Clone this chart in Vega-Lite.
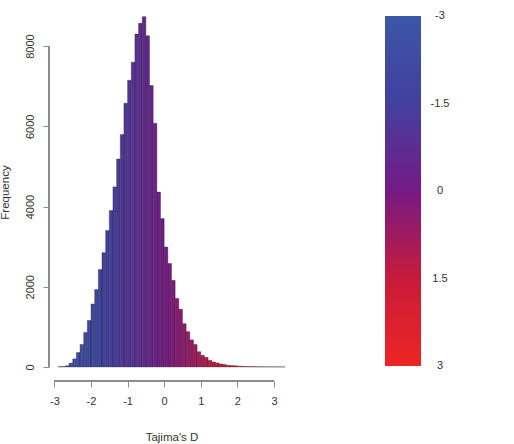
{
  "$schema": "https://vega.github.io/schema/vega-lite/v6.json",
  "width": 245,
  "height": 379,
  "autosize": {"type": "none"},
  "padding": {"left": 49, "top": 2, "right": 220, "bottom": 63},
  "background": "white",
  "config": {
    "view": {"stroke": null},
    "font": "Liberation Sans",
    "axis": {
      "grid": false,
      "domain": false,
      "tickColor": "#8c8c8c",
      "tickSize": 6,
      "labelColor": "#333333",
      "labelFontSize": 11,
      "titleColor": "#333333",
      "titleFontSize": 11.5,
      "titleFontWeight": "normal",
      "labelFont": "Liberation Sans",
      "titleFont": "Liberation Sans",
      "labelExpr": "'' + datum.value"
    }
  },
  "data": {
    "values": [
      {"start": -2.9, "end": -2.8, "count": 5},
      {"start": -2.8, "end": -2.7, "count": 12},
      {"start": -2.7, "end": -2.6, "count": 30},
      {"start": -2.6, "end": -2.5, "count": 95},
      {"start": -2.5, "end": -2.4, "count": 200},
      {"start": -2.4, "end": -2.3, "count": 360},
      {"start": -2.3, "end": -2.2, "count": 560},
      {"start": -2.2, "end": -2.1, "count": 860},
      {"start": -2.1, "end": -2.0, "count": 1160},
      {"start": -2.0, "end": -1.9, "count": 1570},
      {"start": -1.9, "end": -1.8, "count": 1930},
      {"start": -1.8, "end": -1.7, "count": 2430},
      {"start": -1.7, "end": -1.6, "count": 2850},
      {"start": -1.6, "end": -1.5, "count": 3400},
      {"start": -1.5, "end": -1.4, "count": 3900},
      {"start": -1.4, "end": -1.3, "count": 4490},
      {"start": -1.3, "end": -1.2, "count": 5185},
      {"start": -1.2, "end": -1.1, "count": 5795},
      {"start": -1.1, "end": -1.0, "count": 6575},
      {"start": -1.0, "end": -0.9, "count": 7150},
      {"start": -0.9, "end": -0.8, "count": 7595},
      {"start": -0.8, "end": -0.7, "count": 8300},
      {"start": -0.7, "end": -0.6, "count": 8570},
      {"start": -0.6, "end": -0.5, "count": 8735},
      {"start": -0.5, "end": -0.4, "count": 8260},
      {"start": -0.4, "end": -0.3, "count": 7015},
      {"start": -0.3, "end": -0.2, "count": 6075},
      {"start": -0.2, "end": -0.1, "count": 4360},
      {"start": -0.1, "end": 0.0, "count": 3700},
      {"start": 0.0, "end": 0.1, "count": 2990},
      {"start": 0.1, "end": 0.2, "count": 2580},
      {"start": 0.2, "end": 0.3, "count": 2160},
      {"start": 0.3, "end": 0.4, "count": 1710},
      {"start": 0.4, "end": 0.5, "count": 1440},
      {"start": 0.5, "end": 0.6, "count": 1080},
      {"start": 0.6, "end": 0.7, "count": 880},
      {"start": 0.7, "end": 0.8, "count": 675},
      {"start": 0.8, "end": 0.9, "count": 560},
      {"start": 0.9, "end": 1.0, "count": 380},
      {"start": 1.0, "end": 1.1, "count": 290},
      {"start": 1.1, "end": 1.2, "count": 240},
      {"start": 1.2, "end": 1.3, "count": 165},
      {"start": 1.3, "end": 1.4, "count": 125},
      {"start": 1.4, "end": 1.5, "count": 100},
      {"start": 1.5, "end": 1.6, "count": 75},
      {"start": 1.6, "end": 1.7, "count": 60},
      {"start": 1.7, "end": 1.8, "count": 42},
      {"start": 1.8, "end": 1.9, "count": 35},
      {"start": 1.9, "end": 2.0, "count": 30},
      {"start": 2.0, "end": 2.1, "count": 20},
      {"start": 2.1, "end": 2.2, "count": 15},
      {"start": 2.2, "end": 2.3, "count": 12},
      {"start": 2.3, "end": 2.4, "count": 10},
      {"start": 2.4, "end": 2.5, "count": 8},
      {"start": 2.5, "end": 2.6, "count": 6},
      {"start": 2.6, "end": 2.7, "count": 5},
      {"start": 2.7, "end": 2.8, "count": 4},
      {"start": 2.8, "end": 2.9, "count": 3},
      {"start": 2.9, "end": 3.0, "count": 3},
      {"start": 3.0, "end": 3.1, "count": 2},
      {"start": 3.1, "end": 3.2, "count": 2},
      {"start": 3.2, "end": 3.3, "count": 1}
    ]
  },
  "layer": [
    {
      "mark": {"type": "rect", "stroke": "#222222", "strokeWidth": 0.5, "strokeOpacity": 0.7},
      "encoding": {
        "x": {
          "field": "start",
          "type": "quantitative",
          "scale": {"domain": [-3.148, 3.548], "nice": false, "zero": false},
          "axis": {
            "values": [-3, -2, -1, 0, 1, 2, 3],
            "title": "Tajima's D",
            "labelPadding": 8,
            "titleY": 59,
            "titleBaseline": "alphabetic"
          }
        },
        "x2": {"field": "end"},
        "y": {
          "field": "count",
          "type": "quantitative",
          "scale": {"domain": [-350, 9100], "nice": false, "zero": false},
          "axis": {
            "values": [0, 2000, 4000, 6000, 8000],
            "title": "Frequency",
            "labelAngle": -90,
            "labelAlign": "center",
            "labelBaseline": "bottom",
            "labelPadding": 8,
            "titleAngle": -90,
            "titleX": -41,
            "titleY": 190,
            "titleAlign": "center",
            "titleBaseline": "alphabetic"
          }
        },
        "y2": {"datum": 0},
        "color": {
          "field": "start",
          "type": "quantitative",
          "scale": {
            "domain": [3, 1.5, 0, -1.5, -3],
            "range": ["#ee2524", "#c81b3a", "#751a84", "#43409f", "#3b56a6"],
            "interpolate": "rgb",
            "clamp": true
          },
          "legend": {
            "title": null,
            "orient": "none",
            "legendX": 336,
            "legendY": 14,
            "direction": "vertical",
            "gradientLength": 350,
            "gradientThickness": 36,
            "gradientStrokeWidth": 0,
            "values": [-3, -1.5, 0, 1.5, 3],
            "labelExpr": "'' + datum.value",
            "labelOffset": 19,
            "labelFontSize": 11,
            "labelColor": "#333333",
            "labelFont": "Liberation Sans",
            "padding": 0,
            "encode": {
              "labels": {
                "update": {
                  "align": {"value": "center"},
                  "baseline": {"value": "middle"}
                }
              }
            }
          }
        }
      }
    },
    {
      "mark": {"type": "rule", "color": "#8c8c8c", "strokeWidth": 1},
      "encoding": {
        "x": {"datum": -3},
        "x2": {"datum": 3},
        "y": {"datum": -350}
      }
    },
    {
      "mark": {"type": "rule", "color": "#8c8c8c", "strokeWidth": 1},
      "encoding": {
        "x": {"datum": -3.148},
        "y": {"datum": 0},
        "y2": {"datum": 8000}
      }
    }
  ]
}
